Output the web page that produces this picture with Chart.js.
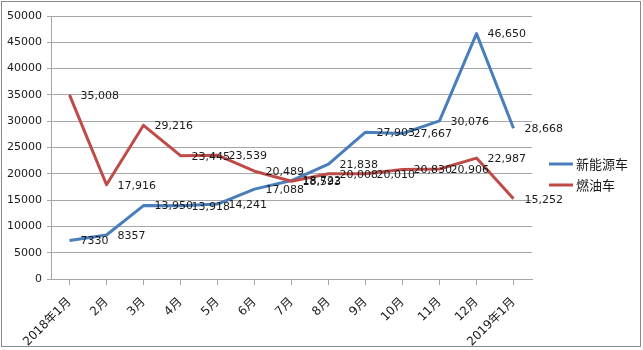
<!DOCTYPE html>
<html>
<head>
<meta charset="utf-8">
<script src="https://cdn.jsdelivr.net/npm/chart.js@4.4.0/dist/chart.umd.min.js"></script>
<style>
  html, body { margin: 0; padding: 0; background: #fff; }
</style>
</head>
<body>
<canvas id="salesChart" width="643" height="350"></canvas>
<script>
const months = ["2018年1月", "2月", "3月", "4月", "5月", "6月", "7月", "8月", "9月", "10月", "11月", "12月", "2019年1月"];
const nevSales = [7330, 8357, 13950, 13918, 14241, 17088, 18722, 21838, 27903, 27667, 30076, 46650, 28668];
const fuelSales = [35008, 17916, 29216, 23445, 23539, 20489, 18593, 20008, 20010, 20830, 20906, 22987, 15252];
const seriesNames = ["新能源车", "燃油车"];
const yMin = 0, yMax = 50000, yStep = 5000;

const numFamily = '"DejaVu Sans", "Noto Sans CJK SC", sans-serif';
const gridGray = "#a6a6a6";

// values under 10000 show without the thousands comma in the source
function fmt(v) {
    return v >= 10000 ? v.toLocaleString("en-US") : String(v);
}

const valueLabels = {
    id: "valueLabels",
    afterDatasetsDraw(chart) {
        const ctx = chart.ctx;
        ctx.save();
        ctx.font = "11px " + numFamily;
        ctx.fillStyle = "#1a1a1a";
        ctx.textBaseline = "middle";
        chart.data.datasets.forEach((ds, i) => {
            chart.getDatasetMeta(i).data.forEach((pt, j) => {
                ctx.fillText(fmt(ds.data[j]), pt.x + 11, pt.y + 1);
            });
        });
        ctx.restore();
    }
};

const frameAndLegend = {
    id: "frameAndLegend",
    beforeDraw(chart) {
        const ctx = chart.ctx;
        ctx.save();
        ctx.fillStyle = "#fff";
        ctx.fillRect(0, 0, chart.width, chart.height);
        ctx.restore();
    },
    afterDraw(chart) {
        const ctx = chart.ctx;
        ctx.save();
        ctx.strokeStyle = "#8a8a8a";
        ctx.lineWidth = 1;
        ctx.strokeRect(1.5, 1.5, chart.width - 4, chart.height - 5);

        // legend on the right
        const x0 = chart.chartArea.right + 17;
        ctx.font = '13px "Noto Sans CJK SC", sans-serif';
        ctx.textBaseline = "middle";
        chart.data.datasets.forEach((ds, i) => {
            const y = chart.height / 2 - 11 + 21 * i;
            ctx.strokeStyle = ds.borderColor;
            ctx.lineWidth = 3;
            ctx.beginPath();
            ctx.moveTo(x0, y);
            ctx.lineTo(x0 + 24, y);
            ctx.stroke();
            ctx.fillStyle = "#1a1a1a";
            ctx.fillText(ds.label, x0 + 27, y);
        });
        ctx.restore();
    }
};

const data = {
    labels: months,
    datasets: [{
        label: seriesNames[0],
        data: nevSales,
        borderColor: "#4a7ebb",
        backgroundColor: "#4a7ebb",
        borderWidth: 3,
        pointRadius: 0,
        tension: 0,
        borderJoinStyle: "round",
        order: 1,
    },
    {
        label: seriesNames[1],
        data: fuelSales,
        borderColor: "#be4b48",
        backgroundColor: "#be4b48",
        borderWidth: 3,
        pointRadius: 0,
        tension: 0,
        borderJoinStyle: "round",
        order: 0,
    }]
};

const options = {
    responsive: false,
    devicePixelRatio: 1,
    animation: false,
    layout: {
        padding: { left: 7, right: 111, top: 16, bottom: 4 }
    },
    plugins: {
        legend: { display: false },
        tooltip: { enabled: false },
    },
    scales: {
        x: {
            offset: true,
            afterFit: (scale) => { scale.height = 67; },
            grid: {
                drawOnChartArea: false,
                color: gridGray,
                tickLength: 6,
            },
            border: { color: gridGray },
            ticks: {
                minRotation: 45,
                maxRotation: 45,
                font: { size: 12, family: numFamily },
                color: "#1a1a1a",
                padding: 10,
            },
        },
        y: {
            min: yMin,
            max: yMax,
            afterFit: (scale) => { scale.width = 44; },
            grid: {
                color: gridGray,
                tickLength: 4,
            },
            border: { color: gridGray },
            ticks: {
                stepSize: yStep,
                callback: (v) => String(v),
                font: { size: 11, family: numFamily },
                color: "#1a1a1a",
                padding: 5,
            },
        },
    },
};

new Chart(document.getElementById("salesChart"), {
    type: "line",
    data: data,
    options: options,
    plugins: [valueLabels, frameAndLegend],
});
</script>
</body>
</html>
